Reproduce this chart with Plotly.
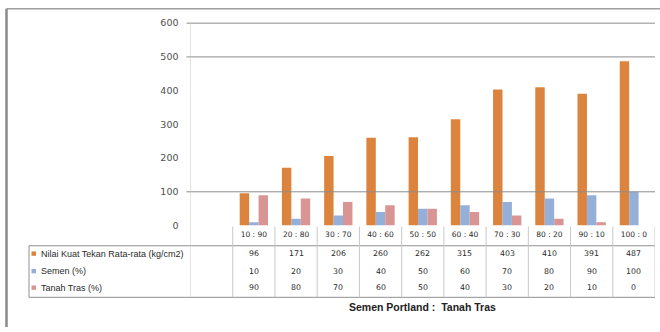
import plotly.graph_objects as go

categories = ["10 : 90", "20 : 80", "30 : 70", "40 : 60", "50 : 50",
              "60 : 40", "70 : 30", "80 : 20", "90 : 10", "100 : 0"]
kuat_tekan = [96, 171, 206, 260, 262, 315, 403, 410, 391, 487]
semen = [10, 20, 30, 40, 50, 60, 70, 80, 90, 100]
tanah_tras = [90, 80, 70, 60, 50, 40, 30, 20, 10, 0]

series_names = ["Nilai Kuat Tekan Rata-rata (kg/cm2)", "Semen (%)", "Tanah Tras (%)"]
series_values = [kuat_tekan, semen, tanah_tras]
colors = ["#DC843D", "#95B0D8", "#D99594"]
y_ticks = [0, 100, 200, 300, 400, 500, 600]
grid_vals = [100, 500, 600]
x_title = "Semen Portland :  Tanah Tras"

W, H = 660, 332
def px(p): return p / W
def py(p): return 1 - p / H

fig = go.Figure()
for name, vals, col in zip(series_names, series_values, colors):
    fig.add_trace(go.Bar(x=categories, y=vals, name=name, marker_color=col,
                         marker_line_width=0, showlegend=False))

x_left, x_right = 190.5, 655
y_zero, y_600 = 227.7, 19.7
y_max = 604
y_top = y_zero - (y_zero - y_600) * y_max / 600
fig.update_layout(
    width=W, height=H, margin=dict(l=0, r=0, t=0, b=0),
    paper_bgcolor="white", plot_bgcolor="rgba(0,0,0,0)",
    barmode="group", bargap=0.33, bargroupgap=0,
    xaxis=dict(type="category", categoryorder="array", categoryarray=categories,
               range=[-1.5, 9.5], domain=[px(x_left), px(x_right)],
               showgrid=False, zeroline=False, showline=False, ticks="",
               tickfont=dict(family="DejaVu Sans", size=7.5, color="#2a2a2a"),
               ticklabelstandoff=3),
    yaxis=dict(range=[0, y_max], domain=[py(y_zero), py(y_top)], tickvals=y_ticks,
               showgrid=False, zeroline=False, showline=False,
               ticks="", ticklabelstandoff=11,
               tickfont=dict(family="DejaVu Sans", size=9.5, color="#505050")),
)

shapes = []
# gridlines (only those visible in the source)
for g in grid_vals:
    shapes.append(dict(type="line", xref="paper", yref="y", x0=px(x_left - 4),
                       x1=px(x_right), y0=g, y1=g,
                       line=dict(color="#8C8C8C", width=1)))
# outer frame
shapes.append(dict(type="line", xref="paper", yref="paper", x0=px(6.5), x1=1,
                   y0=py(5), y1=py(5), line=dict(color="#A0A0A0", width=1.5)))
shapes.append(dict(type="line", xref="paper", yref="paper", x0=px(6.5), x1=px(6.5),
                   y0=py(5), y1=0, line=dict(color="#8A8A8A", width=2.5)))
# table horizontal lines
table_top, table_bot, table_left = 248.5, 301.5, 29
for yy in [table_top, table_bot]:
    shapes.append(dict(type="line", xref="paper", yref="paper", x0=px(table_left),
                       x1=px(x_right), y0=py(yy), y1=py(yy),
                       line=dict(color="#909090", width=1)))
shapes.append(dict(type="line", xref="paper", yref="paper", x0=px(table_left),
                   x1=px(table_left), y0=py(table_top), y1=py(table_bot),
                   line=dict(color="#909090", width=1)))
# value axis line, extended down through the data table
shapes.append(dict(type="line", xref="x", yref="paper", x0=-1.5, x1=-1.5,
                   y0=py(y_600), y1=py(table_bot), line=dict(color="#C8C8C8", width=1)))
# category separators
for i in range(len(categories) + 1):
    xb = i - 0.5
    shapes.append(dict(type="line", xref="x", yref="paper", x0=xb, x1=xb,
                       y0=py(y_zero + 1), y1=py(table_bot),
                       line=dict(color="#C8C8C8", width=1)))

annotations = []
row_y = [256.5, 274.5, 291.5]
for r, (name, vals, col) in enumerate(zip(series_names, series_values, colors)):
    shapes.append(dict(type="rect", xref="paper", yref="paper", x0=px(31.5), x1=px(36),
                       y0=py(row_y[r] + 2.3), y1=py(row_y[r] - 2.2),
                       fillcolor=col, line=dict(width=0)))
    annotations.append(dict(text=name, xref="paper", yref="paper", x=px(38.5),
                            y=py(row_y[r]), xanchor="left", yanchor="middle",
                            showarrow=False,
                            font=dict(family="Liberation Sans", size=9, color="#2a2a2a")))
    for c, v in zip(categories, vals):
        annotations.append(dict(text=str(v), xref="x", yref="paper", x=c,
                                y=py(row_y[r]), xanchor="center", yanchor="middle",
                                showarrow=False,
                                font=dict(family="DejaVu Sans", size=7.8, color="#2a2a2a")))
annotations.append(dict(text="<b>" + x_title + "</b>", xref="paper", yref="paper",
                        x=px((x_left + x_right) / 2), y=py(311.5), xanchor="center",
                        yanchor="middle", showarrow=False,
                        font=dict(family="Liberation Sans", size=10.5, color="#222")))

fig.update_layout(shapes=shapes, annotations=annotations)
fig.write_html("out.html")
